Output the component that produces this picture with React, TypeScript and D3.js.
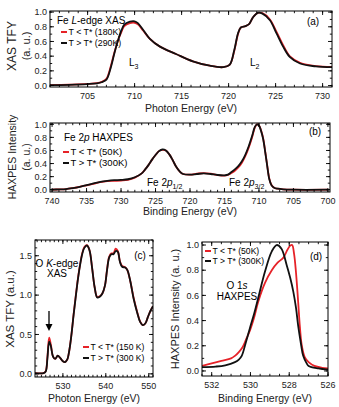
import React from "react";
import * as d3 from "d3";

const W = 339;
const H = 407;
const RED = "#e62228";
const BLACK = "#111111";
const FONT = "'Liberation Sans', Arial, Helvetica, sans-serif";

// (a) Fe L-edge XAS, photon energy (eV)
const feLEnergy = [701, 703, 705, 706, 706.5, 707, 707.5, 707.85, 708.2, 708.6, 708.9, 709.5, 710.0, 710.35, 710.9, 711.6, 712.7, 714.4, 716.2, 718.0, 719.4, 720.1, 720.6, 721.0, 721.3, 721.8, 722.2, 722.6, 723.1, 723.6, 724.4, 725.1, 725.8, 726.5, 727.6, 729.3, 731];
const feLHot = [0.005, 0.01, 0.02, 0.03, 0.045, 0.08, 0.26, 0.44, 0.6, 0.75, 0.83, 0.87, 0.875, 0.85, 0.76, 0.64, 0.53, 0.43, 0.33, 0.27, 0.25, 0.28, 0.48, 0.71, 0.79, 0.81, 0.84, 0.93, 0.99, 0.98, 0.89, 0.71, 0.53, 0.39, 0.3, 0.26, 0.25];
const feLCold = [0.005, 0.012, 0.022, 0.033, 0.05, 0.09, 0.28, 0.45, 0.6, 0.73, 0.81, 0.85, 0.855, 0.835, 0.75, 0.64, 0.53, 0.43, 0.33, 0.27, 0.25, 0.28, 0.47, 0.7, 0.79, 0.81, 0.84, 0.93, 0.99, 0.985, 0.9, 0.73, 0.55, 0.4, 0.31, 0.265, 0.255];

// (b) Fe 2p HAXPES, binding energy (eV)
const fe2pEnergy = [700, 705, 706.5, 707.3, 707.8, 708.2, 708.5, 708.8, 709.1, 709.4, 709.7, 710.0, 710.3, 710.6, 711, 711.5, 712, 712.5, 713, 713.5, 714, 714.5, 715, 716, 717, 718, 719, 720, 721, 721.5, 722, 722.5, 723, 723.5, 724, 724.5, 725, 725.5, 726, 726.5, 727, 728, 729, 730, 731, 732, 733, 734, 735, 736, 737, 738, 739, 740];
const fe2pHot = [0, 0, 0.005, 0.015, 0.03, 0.07, 0.16, 0.36, 0.58, 0.78, 0.9, 0.98, 1.0, 0.96, 0.82, 0.66, 0.53, 0.43, 0.36, 0.31, 0.27, 0.23, 0.22, 0.225, 0.24, 0.25, 0.24, 0.23, 0.24, 0.28, 0.35, 0.45, 0.54, 0.6, 0.615, 0.59, 0.53, 0.46, 0.38, 0.31, 0.25, 0.19, 0.16, 0.15, 0.145, 0.135, 0.12, 0.095, 0.07, 0.045, 0.025, 0.01, 0.005, 0];
const fe2pCold = [0, 0, 0.005, 0.015, 0.03, 0.075, 0.17, 0.37, 0.59, 0.79, 0.91, 0.985, 1.0, 0.95, 0.8, 0.64, 0.51, 0.41, 0.34, 0.29, 0.255, 0.225, 0.215, 0.225, 0.245, 0.255, 0.245, 0.23, 0.24, 0.28, 0.35, 0.45, 0.54, 0.6, 0.61, 0.59, 0.53, 0.46, 0.38, 0.31, 0.25, 0.185, 0.15, 0.14, 0.135, 0.13, 0.115, 0.09, 0.068, 0.044, 0.025, 0.01, 0.005, 0];

// (c) O K-edge XAS, photon energy (eV)
const oKEnergy = [523.5, 525.5, 526.0, 526.4, 526.8, 527.2, 527.7, 528.2, 528.8, 529.4, 530.0, 530.5, 531.0, 531.5, 532.0, 532.5, 533.0, 533.5, 534.0, 534.5, 535.0, 535.6, 536.2, 536.8, 537.4, 538.0, 538.6, 539.2, 539.8, 540.3, 540.8, 541.3, 541.8, 542.3, 542.8, 543.3, 543.8, 544.5, 545.0, 545.7, 546.5, 547.3, 548.0, 548.6, 549.2, 549.8, 550.4, 551.0];
const oKHot = [0.01, 0.01, 0.03, 0.2, 0.41, 0.35, 0.22, 0.19, 0.23, 0.2, 0.16, 0.15, 0.18, 0.3, 0.5, 0.75, 0.98, 1.2, 1.38, 1.52, 1.6, 1.63, 1.57, 1.35, 1.1, 0.97, 0.98, 1.02, 1.12, 1.32, 1.48, 1.52, 1.52, 1.56, 1.55, 1.42, 1.36, 1.35, 1.32, 1.18, 0.95, 0.78, 0.66, 0.62, 0.64, 0.72, 0.8, 0.86];
const oKCold = [0.01, 0.01, 0.035, 0.22, 0.46, 0.37, 0.22, 0.19, 0.23, 0.2, 0.16, 0.15, 0.18, 0.3, 0.5, 0.76, 0.99, 1.21, 1.39, 1.53, 1.61, 1.635, 1.57, 1.35, 1.1, 0.975, 0.985, 1.02, 1.12, 1.33, 1.49, 1.53, 1.53, 1.59, 1.56, 1.43, 1.37, 1.355, 1.32, 1.18, 0.96, 0.79, 0.665, 0.62, 0.64, 0.72, 0.8, 0.86];

// (d) O 1s HAXPES, binding energy (eV)
const o1sHotEnergy = [532.5, 531.8, 531.3, 530.8, 530.6, 530.45, 530.25, 530.03, 529.8, 529.6, 529.25, 528.9, 528.65, 528.4, 528.13, 527.95, 527.79, 527.65, 527.54, 527.4, 527.28, 527.1, 527.0, 526.5, 526.0];
const o1sHot = [0.03, 0.035, 0.045, 0.07, 0.09, 0.12, 0.22, 0.34, 0.46, 0.58, 0.79, 0.95, 1.0, 0.97, 0.84, 0.74, 0.63, 0.5, 0.36, 0.22, 0.12, 0.06, 0.04, 0.02, 0.01];
const o1sColdEnergy = [532.5, 532.0, 531.5, 531.0, 530.8, 530.6, 530.4, 530.2, 530.03, 529.8, 529.6, 529.25, 528.9, 528.6, 528.3, 528.1, 527.95, 527.85, 527.75, 527.65, 527.54, 527.45, 527.35, 527.2, 527.0, 526.7, 526.3, 526.0];
const o1sCold = [0.04, 0.06, 0.08, 0.1, 0.12, 0.15, 0.19, 0.26, 0.32, 0.43, 0.55, 0.7, 0.8, 0.86, 0.9, 0.96, 0.995, 1.0, 0.93, 0.78, 0.55, 0.35, 0.2, 0.11, 0.07, 0.04, 0.025, 0.02];

// tick labels
const feLXTicks = [705, 710, 715, 720, 725, 730];
const fe2pXTicks = [740, 735, 730, 725, 720, 715, 710, 705, 700];
const unitYTicks = [0, 0.2, 0.4, 0.6, 0.8, 1.0];
const oKXTicks = [530, 540, 550];
const oKYTicks = [0, 0.5, 1.0, 1.5];
const o1sXTicks = [532, 530, 528, 526];

type Series = { x: number[]; y: number[]; color: string };

type PanelProps = {
  box: [number, number, number, number]; // left, top, right, bottom
  xDomain: [number, number];
  yDomain: [number, number];
  xTicks: number[];
  yTicks: number[];
  xMinorStep: number;
  yMinorStep: number;
  xFmt: (v: number) => string;
  series: Series[];
  id: string;
};

const Panel = ({ box, xDomain, yDomain, xTicks, yTicks, xMinorStep, yMinorStep, xFmt, series, id }: PanelProps) => {
  const [l, t, r, b] = box;
  const x = d3.scaleLinear().domain(xDomain).range([l, r]);
  const y = d3.scaleLinear().domain(yDomain).range([b, t]);
  const xLo = Math.min(...xDomain);
  const xHi = Math.max(...xDomain);
  const xMinor = d3.range(Math.ceil(xLo / xMinorStep) * xMinorStep, xHi + 1e-9, xMinorStep);
  const yMinor = d3.range(Math.ceil(yDomain[0] / yMinorStep) * yMinorStep, yDomain[1] + 1e-9, yMinorStep);
  const maj = 4;
  const mnr = 2.2;

  return (
    <g>
      <defs>
        <clipPath id={`clip-${id}`}>
          <rect x={l} y={t} width={r - l} height={b - t} />
        </clipPath>
      </defs>
      <g clipPath={`url(#clip-${id})`}>
        {series.map((s, k) => {
          const line = d3
            .line<number>()
            .x((_, i) => x(s.x[i]))
            .y((d) => y(d))
            .curve(d3.curveCatmullRom.alpha(0.5));
          return <path key={k} d={line(s.y) || ""} fill="none" stroke={s.color} strokeWidth={1.8} strokeLinejoin="round" />;
        })}
      </g>
      <g stroke="#000" strokeWidth={0.9}>
        {xMinor.map((v, i) => (
          <g key={`xm${i}`}>
            <line x1={x(v)} x2={x(v)} y1={b} y2={b - mnr} />
            <line x1={x(v)} x2={x(v)} y1={t} y2={t + mnr} />
          </g>
        ))}
        {xTicks.map((v, i) => (
          <g key={`xM${i}`}>
            <line x1={x(v)} x2={x(v)} y1={b} y2={b - maj} />
            <line x1={x(v)} x2={x(v)} y1={t} y2={t + maj} />
          </g>
        ))}
        {yMinor.map((v, i) => (
          <g key={`ym${i}`}>
            <line x1={l} x2={l + mnr} y1={y(v)} y2={y(v)} />
            <line x1={r} x2={r - mnr} y1={y(v)} y2={y(v)} />
          </g>
        ))}
        {yTicks.map((v, i) => (
          <g key={`yM${i}`}>
            <line x1={l} x2={l + maj} y1={y(v)} y2={y(v)} />
            <line x1={r} x2={r - maj} y1={y(v)} y2={y(v)} />
          </g>
        ))}
      </g>
      <rect x={l} y={t} width={r - l} height={b - t} fill="none" stroke="#000" strokeWidth={1} />
      <g fontSize={9} fill="#222">
        {xTicks.map((v, i) => (
          <text key={`xl${i}`} x={x(v)} y={b + 11.5} textAnchor="middle">
            {xFmt(v)}
          </text>
        ))}
        {yTicks.map((v, i) => (
          <text key={`yl${i}`} x={l - 3} y={y(v) + 3.2} textAnchor="end">
            {d3.format(".1f")(v)}
          </text>
        ))}
      </g>
    </g>
  );
};

const LegendRow = ({ x, y, color, label, size }: { x: number; y: number; color: string; label: string; size: number }) => (
  <g>
    <line x1={x} x2={x + 6} y1={y} y2={y} stroke={color} strokeWidth={2} />
    <text x={x + 7.5} y={y + size * 0.36} fontSize={size}>
      {label}
    </text>
  </g>
);

const intFmt = (v: number) => d3.format("d")(v);

export default function App() {
  return (
    <svg width={W} height={H} style={{ position: "absolute", left: 0, top: 0, fontFamily: FONT }}>
      <rect width={W} height={H} fill="#fff" />

      {/* (a) Fe L-edge XAS */}
      <Panel
        id="a"
        box={[50, 11, 332, 87]}
        xDomain={[701, 731]}
        yDomain={[-0.02, 1.015]}
        xTicks={feLXTicks}
        yTicks={unitYTicks}
        xMinorStep={1}
        yMinorStep={0.1}
        xFmt={intFmt}
        series={[
          { x: feLEnergy, y: feLCold, color: RED },
          { x: feLEnergy, y: feLHot, color: BLACK },
        ]}
      />
      <text x={191} y={112} fontSize={10.5} textAnchor="middle" fill="#222">Photon Energy (eV)</text>
      <text transform="translate(16,46) rotate(-90)" fontSize={12} textAnchor="middle" fill="#222">XAS TFY</text>
      <text transform="translate(30,46) rotate(-90)" fontSize={11} textAnchor="middle" fill="#222">(a. u.)</text>
      <text x={57} y={23.5} fontSize={10}>
        Fe <tspan fontStyle="italic">L</tspan>-edge XAS
      </text>
      <LegendRow x={61} y={32} color={RED} label="T < T* (180K)" size={8.8} />
      <LegendRow x={61} y={43} color={BLACK} label="T > T* (290K)" size={8.8} />
      <text x={313} y={25} fontSize={10} textAnchor="middle">(a)</text>
      <text x={129} y={66} fontSize={10}>
        L<tspan fontSize={7} dy={3}>3</tspan>
      </text>
      <text x={250} y={66} fontSize={10}>
        L<tspan fontSize={7} dy={3}>2</tspan>
      </text>

      {/* (b) Fe 2p HAXPES */}
      <Panel
        id="b"
        box={[50, 123, 330, 192]}
        xDomain={[740.3, 699.7]}
        yDomain={[-0.035, 1.02]}
        xTicks={fe2pXTicks}
        yTicks={unitYTicks}
        xMinorStep={1}
        yMinorStep={0.1}
        xFmt={intFmt}
        series={[
          { x: fe2pEnergy, y: fe2pCold, color: RED },
          { x: fe2pEnergy, y: fe2pHot, color: BLACK },
        ]}
      />
      <text x={190} y={215} fontSize={10.5} textAnchor="middle" fill="#222">Binding Energy (eV)</text>
      <text transform="translate(16,157) rotate(-90)" fontSize={10.5} textAnchor="middle" fill="#222">HAXPES Intensity</text>
      <text transform="translate(30,157) rotate(-90)" fontSize={10.5} textAnchor="middle" fill="#222">(a. u.)</text>
      <text x={64} y={141} fontSize={10}>
        Fe 2<tspan fontStyle="italic">p</tspan> HAXPES
      </text>
      <LegendRow x={63} y={152} color={RED} label="T < T* (50K)" size={9.5} />
      <LegendRow x={63} y={163} color={BLACK} label="T > T* (300K)" size={9.5} />
      <text x={315} y={135} fontSize={10} textAnchor="middle">(b)</text>
      <text x={147} y={186} fontSize={10}>
        Fe 2<tspan fontStyle="italic">p</tspan>
        <tspan fontSize={7} dy={2.5}>1/2</tspan>
      </text>
      <text x={229} y={186} fontSize={10}>
        Fe 2<tspan fontStyle="italic">p</tspan>
        <tspan fontSize={7} dy={2.5}>3/2</tspan>
      </text>

      {/* (c) O K-edge XAS */}
      <Panel
        id="c"
        box={[35, 240, 153, 377]}
        xDomain={[523.5, 551]}
        yDomain={[-0.04, 1.7]}
        xTicks={oKXTicks}
        yTicks={oKYTicks}
        xMinorStep={1}
        yMinorStep={0.1}
        xFmt={intFmt}
        series={[
          { x: oKEnergy, y: oKCold, color: RED },
          { x: oKEnergy, y: oKHot, color: BLACK },
        ]}
      />
      <text x={94} y={402} fontSize={10.5} textAnchor="middle" fill="#222">Photon Energy (eV)</text>
      <text transform="translate(14,309) rotate(-90)" fontSize={11.5} textAnchor="middle" fill="#222">XAS TFY (a.u.)</text>
      <text x={57} y={266.5} fontSize={10} textAnchor="middle">
        O <tspan fontStyle="italic">K</tspan>-edge
      </text>
      <text x={57} y={277} fontSize={10} textAnchor="middle">XAS</text>
      <text x={140} y={259} fontSize={10} textAnchor="middle">(c)</text>
      <line x1={49} x2={49} y1={311} y2={325} stroke="#000" strokeWidth={1.3} />
      <path d="M45.5,324 L52.5,324 L49,331 Z" fill="#000" />
      <LegendRow x={83} y={347} color={RED} label="T < T* (150 K)" size={8.6} />
      <LegendRow x={83} y={358} color={BLACK} label="T > T* (300 K)" size={8.6} />

      {/* (d) O 1s HAXPES */}
      <Panel
        id="d"
        box={[202, 242, 328, 376]}
        xDomain={[532.5, 526]}
        yDomain={[-0.04, 1.024]}
        xTicks={o1sXTicks}
        yTicks={unitYTicks}
        xMinorStep={0.5}
        yMinorStep={0.1}
        xFmt={intFmt}
        series={[
          { x: o1sColdEnergy, y: o1sCold, color: RED },
          { x: o1sHotEnergy, y: o1sHot, color: BLACK },
        ]}
      />
      <text x={265} y={402} fontSize={10.5} textAnchor="middle" fill="#222">Binding Energy (eV)</text>
      <text transform="translate(179,309) rotate(-90)" fontSize={11} textAnchor="middle" fill="#222">HAXPES Intensity (a. u.)</text>
      <LegendRow x={205} y={251} color={RED} label="T < T* (50K)" size={8.6} />
      <LegendRow x={205} y={261} color={BLACK} label="T > T* (300K)" size={8.6} />
      <text x={316} y={260} fontSize={10} textAnchor="middle">(d)</text>
      <text x={237} y={289} fontSize={10} textAnchor="middle">
        O 1<tspan fontStyle="italic">s</tspan>
      </text>
      <text x={237} y={300} fontSize={10} textAnchor="middle">HAXPES</text>
    </svg>
  );
}
